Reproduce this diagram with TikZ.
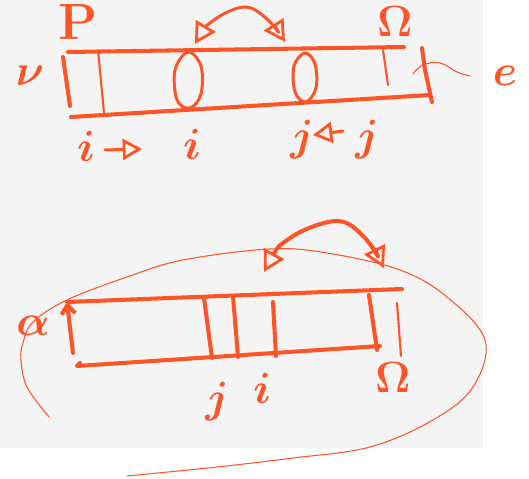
\documentclass[tikz,border=0pt]{standalone}
\usepackage{tikz}
\usetikzlibrary{arrows.meta}
\definecolor{sketch}{HTML}{FF5526}
\definecolor{paper}{HTML}{F4F4F4}

\begin{document}
\begin{tikzpicture}[x=0.02cm, y=-0.02cm, line cap=round, line join=round,
  lbl/.style={outer sep=0pt, text=sketch, font=\fontsize{29}{33}\selectfont\boldmath\bfseries},
  bold/.style={sketch, line width=2.3pt},
  mid/.style={sketch, line width=1.7pt},
  fine/.style={sketch, line width=1.2pt},
  hair/.style={sketch, line width=0.6pt},
  swap/.style={{Triangle[open, length=12pt, width=13pt, line width=1.6pt]}-{Triangle[open, length=12pt, width=13pt, line width=1.6pt]}},
  move/.style={-{Triangle[open, length=11pt, width=12pt, line width=1.6pt]}}]

\useasboundingbox (0,0) rectangle (529,479);
\fill [paper] (0,0) rectangle (483,448);

\begin{scope}

 \draw [bold] (68,52) -- (404,47);
 \draw [bold] (71,117) -- (430,95);
 \draw [bold] (63,57) -- (70,106);
 \draw [fine] (98,50) -- (104,113);
 \draw [fine] (383,50) -- (388,85);
 \draw [bold] (422,48) -- (425,70) -- (432,102);

 \draw [mid]  plot[smooth cycle, tension=.6] coordinates {(188,52) (201,66) (201,94) (190,108) (177,100) (175,70)};
 \draw [mid]  plot[smooth cycle, tension=.6] coordinates {(305,53) (315,64) (316,88) (306,102) (295,92) (294,66)};

 \draw [mid,swap]  plot[smooth, tension=.6] coordinates {(195,44) (214,20) (245,7) (268,20) (285,42)};

 \draw [hair]  plot[smooth, tension=.7] coordinates {(413,74) (423,65) (440,63) (457,72) (470,76)};

 \node[lbl] (lblP) at (78,22) {P};
 \node[lbl] (lblR) at (395,22) {$\Omega$};
 \node[lbl] (lblV) at (30,76) {$\nu$};
 \node[lbl] (lblE) at (505,76) {$e$};

 \node[lbl] (lblI) at (86,146) {$i$};
 \coordinate (iFrom) at (105,150);
 \coordinate (iTo) at (142,149);
 \draw [mid,move] (iFrom) -- (iTo);
 \node[lbl] (lblI2) at (192,144) {$i$};

 \node[lbl] (lblJ) at (302,140) {$j$};
 \coordinate (jFrom) at (343,131);
 \coordinate (jTo) at (313,135);
 \draw [mid,move] (jFrom) -- (jTo);
 \node[lbl] (lblJ2) at (367,140) {$j$};

\end{scope}

% second array
\begin{scope}

 \draw [hair]  plot[smooth, tension=.6] coordinates {(49,417) (27,387) (21,360) (23,343) (33,322) (67,300) (127,277) (183,260) (270,249) (327,253) (400,270) (447,297) (485,340) (473,387) (433,420) (370,447) (293,458) (217,467) (127,476)};

 \draw [bold] (67,302) -- (402,289);
 \draw [bold] (80,363) -- (77,366) -- (380,346);
 \draw [bold,-{Straight Barb[length=5pt, width=8pt]}] (73,353) -- (67,302);
 \draw [bold] (204,298) -- (212,358);
 \draw [bold] (233,296) -- (238,357);
 \draw [bold] (273,302) -- (276,356);
 \draw [bold] (369,295) -- (377,350);
 \draw [fine] (397,303) -- (401,356);

 \draw [bold,swap]  plot[smooth, tension=.6] coordinates {(264,272) (290,238) (337,221) (365,238) (384,268)};

 \node[lbl] (lblA) at (33,326) {$\alpha$};
 \node[lbl] (lblJ3) at (217,402) {$j$};
 \node[lbl] (lblI3) at (262,388) {$i$};
 \node[lbl] (lblR2) at (393,378) {$\Omega$};

\end{scope}

\end{tikzpicture}
\end{document}
